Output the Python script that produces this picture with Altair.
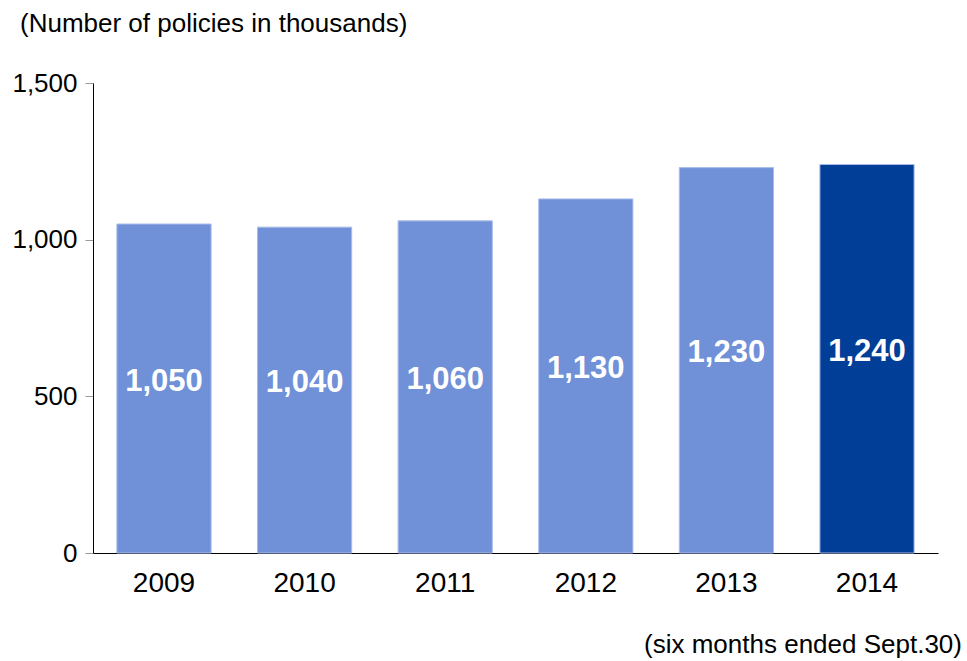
import altair as alt
import pandas as pd

years = ["2009", "2010", "2011", "2012", "2013", "2014"]
values = [1050, 1040, 1060, 1130, 1230, 1240]
labels = ["1,050", "1,040", "1,060", "1,130", "1,230", "1,240"]
highlight = [False, False, False, False, False, True]

df = pd.DataFrame({"year": years, "value": values, "label": labels, "hl": highlight})

FONT = "Liberation Sans"
W, H = 845, 470

x_axis = alt.Axis(labelAngle=0, labelFontSize=28, labelFont=FONT, labelColor="black",
                  ticks=False, labelPadding=16, domainColor="black", domainWidth=1)
y_axis = alt.Axis(values=[0, 500, 1000, 1500], format=",d", grid=False,
                  labelFontSize=26, labelFont=FONT, labelColor="black",
                  tickColor="#999999", tickSize=8, labelPadding=8,
                  domainColor="black", domainWidth=1)
x_scale = alt.Scale(paddingInner=0.33, paddingOuter=0.17)
y_scale = alt.Scale(domain=[0, 1500], nice=False)

base = alt.Chart(df)

bars = base.mark_bar(stroke="#a9bce9", strokeWidth=1).encode(
    x=alt.X("year:N", sort=years, title=None, scale=x_scale, axis=x_axis),
    y=alt.Y("value:Q", title=None, scale=y_scale, axis=y_axis),
    color=alt.Color("hl:N", legend=None,
                    scale=alt.Scale(domain=[False, True], range=["#7090d8", "#003e98"])),
)

text = base.transform_calculate(mid="datum.value / 2").mark_text(
    font=FONT, fontSize=31, fontWeight="bold", color="white", baseline="middle", dy=-7
).encode(
    x=alt.X("year:N", sort=years, title=None, scale=x_scale, axis=x_axis),
    y=alt.Y("mid:Q", title=None, scale=y_scale, axis=y_axis),
    text="label:N",
)

note_df = pd.DataFrame({"a": [1]})
top_title = alt.Chart(note_df).mark_text(
    font=FONT, fontSize=26, color="black", align="left", baseline="middle"
).encode(x=alt.value(-73), y=alt.value(-59), text=alt.value("(Number of policies in thousands)"))

foot = alt.Chart(note_df).mark_text(
    font=FONT, fontSize=26, color="black", align="right", baseline="middle"
).encode(x=alt.value(869), y=alt.value(562), text=alt.value("(six months ended Sept.30)"))

chart = alt.layer(bars, text, top_title, foot).properties(
    width=W, height=H,
    background="white",
    autosize=alt.AutoSizeParams(type="none"),
    padding={"left": 93, "top": 83, "right": 29, "bottom": 108},
).configure_view(stroke=None)

chart.save("out.html", embed_options={"renderer": "svg", "actions": False})
